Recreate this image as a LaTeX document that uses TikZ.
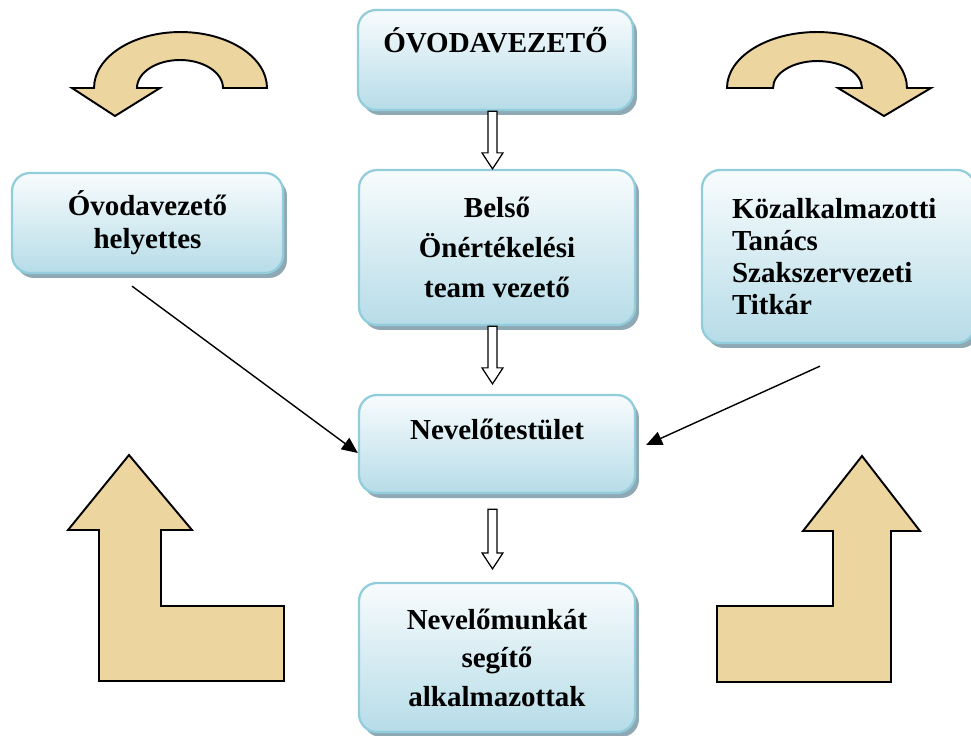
\documentclass[tikz,border=0pt]{standalone}
\usepackage{fontspec}
\setmainfont{Liberation Serif}
\usetikzlibrary{calc,shadows,arrows.meta}
\definecolor{boxtop}{RGB}{248,252,253}
\definecolor{boxbot}{RGB}{182,220,232}
\definecolor{boxline}{RGB}{146,205,220}
\definecolor{boxshadow}{RGB}{142,169,180}
\definecolor{tan}{RGB}{236,213,158}
\tikzset{
  orgbox/.style={draw=boxline, line width=1.3pt, rounded corners=0.36cm,
    top color=boxtop, bottom color=boxbot,
    drop shadow={shadow xshift=0.08cm, shadow yshift=-0.1cm, fill=boxshadow, opacity=1},
    inner ysep=0pt, inner xsep=0pt, align=center},
  hollowarr/.style={draw=black, line width=0.7pt, fill=white},
  thinarr/.style={draw=black, line width=0.8pt, -{Triangle[length=0.32cm,width=0.28cm]}},
  tanshape/.style={draw=black, line width=1.1pt, fill=tan, line join=miter},
}
\newcommand\hollowarrow[2]{%
  \draw[hollowarr] let \p1=(#1), \p2=(#2) in
    (\x2-0.09cm,\y1) -- (\x2-0.09cm,\y2+0.32cm) -- (\x2-0.21cm,\y2+0.32cm) --
    (\x2,\y2) -- (\x2+0.21cm,\y2+0.32cm) -- (\x2+0.09cm,\y2+0.32cm) --
    (\x2+0.09cm,\y1) -- cycle;}
\begin{document}
\begin{tikzpicture}[x=0.02cm,y=-0.02cm]
\useasboundingbox (0,0) rectangle (971,735);
\clip (0,0) rectangle (971,735);

% boxes
\node[orgbox, minimum width=5.5cm, minimum height=2cm,
      text height=0.84cm, text depth=1.16cm,
      font=\fontsize{16.5}{20}\selectfont\bfseries] (ovez) at (495.5,60) {ÓVODAVEZETŐ};
\node[orgbox, minimum width=5.52cm, minimum height=3.1cm,
      font=\fontsize{16.5}{22.7}\selectfont\bfseries] (belso) at (497,247.5)
      {Belső\\Önértékelési\\team vezető};
\node[orgbox, minimum width=5.52cm, minimum height=1.96cm,
      text height=0.88cm, text depth=1.08cm,
      font=\fontsize{16.5}{20}\selectfont\bfseries] (nev) at (497,444) {Nevelőtestület};
\node[orgbox, minimum width=5.52cm, minimum height=2.98cm,
      font=\fontsize{16.5}{21.9}\selectfont\bfseries] (seg) at (497,657.5)
      {Nevelőmunkát\\segítő\\alkalmazottak};
\node[orgbox, minimum width=5.42cm, minimum height=2cm,
      font=\fontsize{16.5}{18.8}\selectfont\bfseries] (helyettes) at (147.5,223)
      {Óvodavezető\\helyettes};
\node[orgbox, minimum width=5.46cm, minimum height=3.46cm, align=left,
      inner xsep=0.6cm, text width=4.26cm,
      font=\fontsize{16.5}{18.2}\selectfont\bfseries] (kozalk) at (838.5,256.5)
      {Közalkalmazotti\\Tanács\\Szakszervezeti\\Titkár};

% hollow arrows
\hollowarrow{ovez.south}{$(belso.north)+(-4.5,0)$}
\hollowarrow{belso.south}{$(nev.north)+(-4.5,-10)$}
\hollowarrow{$(nev.south)+(0,15)$}{$(seg.north)+(-4.5,-13)$}

% thin arrows
\draw[thinarr] ($(helyettes.south)+(-15.5,12)$) -- ($(nev.west)+(0,9)$);
\draw[thinarr] ($(kozalk.south)+(-18.5,22)$) -- ($(nev.east)+(10,1)$);

% curved arrows
\draw[tanshape] (267,88) arc[start angle=0,end angle=180,x radius=1.73cm,y radius=1.12cm]
  -- (72,88) -- (115,116) -- (160,88) -- (137,88)
  arc[start angle=180,end angle=0,x radius=0.86cm,y radius=0.56cm] -- cycle;
\draw[tanshape] (727,88) arc[start angle=180,end angle=0,x radius=1.8cm,y radius=1.12cm]
  -- (931,88) -- (884,116) -- (838,88) -- (862,88)
  arc[start angle=0,end angle=180,x radius=0.89cm,y radius=0.54cm] -- cycle;

% L arrows
\draw[tanshape] (99,681) -- (284,681) -- (284,606) -- (161,606) -- (161,530)
  -- (192,530) -- (129,455) -- (68,530) -- (99,530) -- cycle;
\draw[tanshape] (717,682) -- (891,682) -- (891,531) -- (920,531) -- (862,456)
  -- (803,531) -- (833,531) -- (833,606) -- (717,606) -- cycle;
\end{tikzpicture}
\end{document}
